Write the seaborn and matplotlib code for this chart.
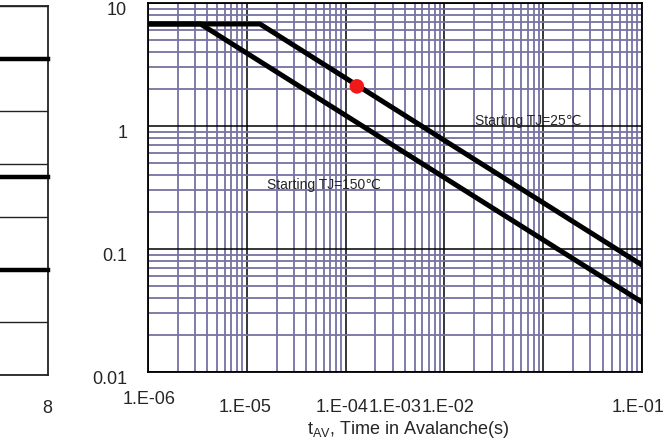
import numpy as np
import pandas as pd
import matplotlib
matplotlib.use("Agg")
import matplotlib.pyplot as plt
import matplotlib.transforms as mtransforms
from matplotlib.ticker import LogLocator, NullFormatter
import seaborn as sns

# ---------------- data ----------------
tj25_time = [1e-6, 1.36e-5, 1e-1]
tj25_current = [6.75, 6.75, 0.074]
tj150_time = [1e-6, 3.4e-6, 1e-1]
tj150_current = [6.75, 6.75, 0.037]
point_time = [1.3e-4]
point_current = [2.1]

decades = [1e-6, 1e-5, 1e-4, 1e-3, 1e-2, 1e-1]
xtick_labels = ["1.E-06", "1.E-05", "1.E-04", "1.E-03", "1.E-02", "1.E-01"]
ytick_values = [0.01, 0.1, 1, 10]
ytick_labels = ["0.01", "0.1", "1", "10"]

# partial neighbouring chart on the left (only its right end is visible)
left_levels = [6, 3.75, 2]
left_xrange = [0, 8]
left_xticks = [8]
left_xtick_labels = ["8"]

# ---------------- layout ----------------
W, H = 672, 441
xlabel_px = [149, 245, 342, 395, 448, 638]
xlabel_py = [399, 408, 408, 408, 408, 408]

sns.set_style("white")
plt.rcParams["font.family"] = ["Liberation Sans", "DejaVu Sans"]
plt.rcParams["mathtext.fontset"] = "custom"
plt.rcParams["mathtext.rm"] = "Liberation Sans"

fig = plt.figure(figsize=(W / 100, H / 100), dpi=100)
fig.patch.set_facecolor("white")

# ---- main chart ----
ax = fig.add_axes([148 / W, 1 - 372 / H, (642 - 148) / W, (372 - 3) / H])
ax.set_xscale("log")
ax.set_yscale("log")
ax.set_xlim(decades[0], decades[-1])
ax.set_ylim(ytick_values[0], ytick_values[-1])

grid_purple = "#7672a3"
ax.xaxis.set_minor_locator(LogLocator(base=10, subs=np.arange(2, 10)))
ax.yaxis.set_minor_locator(LogLocator(base=10, subs=np.arange(2, 10)))
ax.xaxis.set_minor_formatter(NullFormatter())
ax.yaxis.set_minor_formatter(NullFormatter())
ax.grid(which="minor", color=grid_purple, lw=1.3, zorder=0)
ax.grid(which="major", color="black", lw=1.1, zorder=1)
ax.set_axisbelow(True)

ax.set_xticks(decades)
ax.set_xticklabels([])
ax.set_yticks(ytick_values)
ax.set_yticklabels(ytick_labels, fontsize=13)
ax.tick_params(which="both", length=0)
ax.tick_params(axis="y", pad=15)
offset = mtransforms.ScaledTranslation(0, -4 / 72, fig.dpi_scale_trans)
for lab in ax.get_yticklabels():
    lab.set_transform(lab.get_transform() + offset)

for s in ax.spines.values():
    s.set_color("black")
    s.set_linewidth(1.3)

df = pd.DataFrame({
    "time": tj25_time + tj150_time,
    "current": tj25_current + tj150_current,
    "series": ["25"] * len(tj25_time) + ["150"] * len(tj150_time),
})
sns.lineplot(data=df, x="time", y="current", hue="series",
             palette={"25": "black", "150": "black"}, estimator=None,
             sort=False, lw=3.6, legend=False, ax=ax, zorder=3)
sns.scatterplot(x=point_time, y=point_current, color="#f01818", s=110,
                edgecolor="none", ax=ax, zorder=4)
ax.set_xlabel("")
ax.set_ylabel("")

ax.text(10 ** -4.796, 0.331, "Starting TJ=150\u2103", fontsize=10,
        ha="left", va="center", zorder=5)
ax.text(10 ** -2.69, 1.1, "Starting TJ=25\u2103", fontsize=10,
        ha="left", va="center", zorder=5)

for lab, px, py in zip(xtick_labels, xlabel_px, xlabel_py):
    fig.text(px / W, 1 - py / H, lab, fontsize=13, ha="center", va="center")

fig.text(408 / W, 1 - 430 / H, r"t$_\mathregular{AV}$, Time in Avalanche(s)",
         fontsize=13, ha="center", va="center")

# ---- partial chart on the left ----
lax = fig.add_axes([47.5 / W - 0.6, 1 - 375 / H, 0.6, (375 - 6) / H])
lax.set_xlim(left_xrange[0], left_xrange[1])
lax.set_ylim(0, 7)
lax.set_yticks(np.arange(0, 8))
lax.set_yticklabels([])
lax.set_xticks(left_xticks)
lax.set_xticklabels(left_xtick_labels, fontsize=13)
lax.tick_params(length=0)
lax.tick_params(axis="x", pad=18)
lax.grid(axis="y", color="#222222", lw=1.0)
lax.grid(axis="x", visible=False)
for s in lax.spines.values():
    s.set_color("#222222")
    s.set_linewidth(1.3)
for lvl in left_levels:
    ldf = pd.DataFrame({"x": left_xrange, "y": [lvl, lvl]})
    sns.lineplot(data=ldf, x="x", y="y", color="black", lw=3.2, ax=lax,
                 solid_capstyle="projecting", clip_on=False, zorder=3)
lax.set_xlabel("")
lax.set_ylabel("")

fig.savefig("out.png", dpi=100)
